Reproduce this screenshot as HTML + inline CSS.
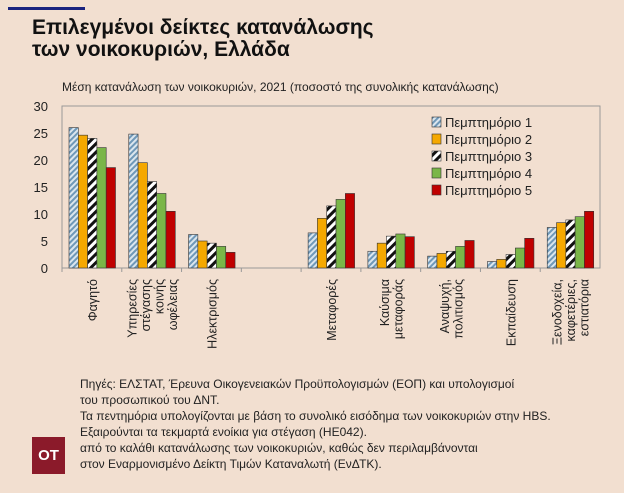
<!DOCTYPE html>
<html><head><meta charset="utf-8"><style>
body{margin:0;width:624px;height:493px;background:#f2dfd0;font-family:"Liberation Sans","DejaVu Sans",sans-serif;overflow:hidden;position:relative}
.t{position:absolute;left:32px;top:17px;font-size:21px;font-weight:bold;color:#111;line-height:22px}
.ft{position:absolute;left:80px;top:376px;font-size:12px;line-height:16px;color:#222}
</style></head><body>
<div style="position:absolute;left:8px;top:7px;width:77px;height:3px;background:#1a237e"></div>
<div class="t">Επιλεγμένοι δείκτες κατανάλωσης<br>των νοικοκυριών, Ελλάδα</div>
<svg id="c" width="624" height="493" style="position:absolute;left:0;top:0">
<defs>
<pattern id="p1" width="4" height="4" patternUnits="userSpaceOnUse" patternTransform="rotate(45)"><rect width="4" height="4" fill="#dbe6ee"/><rect width="2" height="4" fill="#6f98b8"/></pattern>
<pattern id="p3" width="6" height="6" patternUnits="userSpaceOnUse" patternTransform="rotate(45)"><rect width="6" height="6" fill="#fff"/><rect width="3" height="6" fill="#111"/></pattern>
</defs>
<text x="62" y="91" font-size="12" fill="#222">Μέση κατανάλωση των νοικοκυριών, 2021 (ποσοστό της συνολικής κατανάλωσης)</text>
</svg>
<div style="position:absolute;left:32px;top:437px;width:33px;height:37px;background:#8b1a2a;color:#fff;font-weight:bold;font-size:15px;line-height:37px;text-align:center">OT</div>
<div class="ft">Πηγές: ΕΛΣΤΑΤ, Έρευνα Οικογενειακών Προϋπολογισμών (ΕΟΠ) και υπολογισμοί<br>του προσωπικού του ΔΝΤ.<br>Τα πεντημόρια υπολογίζονται με βάση το συνολικό εισόδημα των νοικοκυριών στην HBS.<br>Εξαιρούνται τα τεκμαρτά ενοίκια για στέγαση (HE042).<br>από το καλάθι κατανάλωσης των νοικοκυριών, καθώς δεν περιλαμβάνονται<br>στον Εναρμονισμένο Δείκτη Τιμών Καταναλωτή (ΕνΔΤΚ).</div>
<script>
const categories=[["Φαγητό"],["Υπηρεσίες","στέγασης","κοινής","ωφέλειας"],["Ηλεκτρισμός"],[],["Μεταφορές"],["Καύσιμα","μεταφοράς"],["Αναψυχή,","πολιτισμός"],["Εκπαίδευση"],["Ξενοδοχεία,","καφετέριες,","εστιατόρια"]];
const q1=[26,24.8,6.2,null,6.5,3.1,2.2,1.2,7.5];
const q2=[24.6,19.5,5,null,9.2,4.6,2.7,1.6,8.4];
const q3=[24,16,4.6,null,11.5,5.9,3.1,2.5,8.9];
const q4=[22.3,13.8,4,null,12.7,6.3,4,3.7,9.5];
const q5=[18.6,10.5,2.9,null,13.8,5.8,5.1,5.5,10.5];
const seriesNames=["Πεμπτημόριο 1","Πεμπτημόριο 2","Πεμπτημόριο 3","Πεμπτημόριο 4","Πεμπτημόριο 5"];
const yTicks=[0,5,10,15,20,25,30];
const fills=["url(#p1)","#f5a800","url(#p3)","#7ab648","#c00000"];
const NS="http://www.w3.org/2000/svg",svg=document.getElementById('c');
const L=62,R=600,T=106,B=268,slot=(R-L)/categories.length;
const y=v=>B-(v/30)*(B-T);
function mk(t,a){const e=document.createElementNS(NS,t);for(const k in a)e.setAttribute(k,a[k]);svg.appendChild(e);return e;}
const fr=mk('rect',{x:L,y:T,width:R-L,height:B-T,fill:'none',stroke:'#999','stroke-width':1});


yTicks.forEach(v=>{const t=mk('text',{x:L-14,y:y(v)+5,'text-anchor':'end','font-size':13,fill:'#222'});t.textContent=v;

});
const series=[q1,q2,q3,q4,q5];
categories.forEach((c,i)=>{
 const x0=L+i*slot;
 mk('line',{x1:x0,x2:x0,y1:B,y2:B+4,stroke:'#999'});
 const bw=9.3,start=x0+7;
 series.forEach((s,j)=>{ if(s[i]==null)return;
  const r=mk('rect',{x:start+j*bw,y:y(s[i]),width:bw,height:B-y(s[i]),fill:fills[j],stroke:'#333','stroke-width':0.6});
  
  
 });
 const n=c.length,cx=x0+slot/2;
 c.forEach((ln,k)=>{const xx=cx+(k-(n-1)/2)*13.5+5;
  const t=mk('text',{x:xx,y:B+11,'text-anchor':'end','font-size':12.5,fill:'#222',transform:`rotate(-90 ${xx} ${B+11})`});t.textContent=ln;
  
  });
});
seriesNames.forEach((n,j)=>{const yy=117+j*17;
 const r=mk('rect',{x:432,y:yy,width:9,height:10,fill:fills[j],stroke:'#333','stroke-width':0.6});
 
 
 const t=mk('text',{x:445,y:yy+10,'font-size':13,fill:'#222'});t.textContent=n;
 
 });
</script>
</body></html>
